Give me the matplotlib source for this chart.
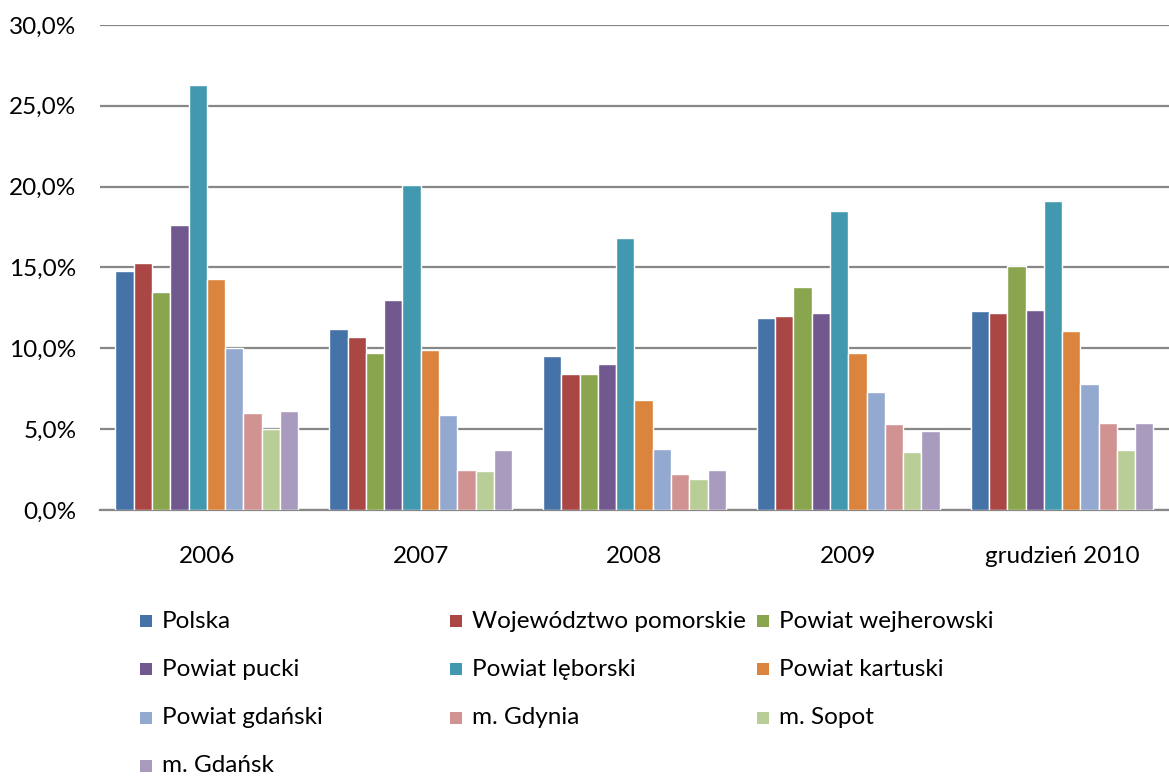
import numpy as np
import matplotlib
matplotlib.use("Agg")
import matplotlib.pyplot as plt
from matplotlib.patches import Rectangle
from matplotlib.ticker import FuncFormatter

plt.rcParams['font.family'] = ['Lato', 'DejaVu Sans']

# data (unemployment rate, %)
years = ["2006", "2007", "2008", "2009", "grudzień 2010"]
series_names = ["Polska", "Województwo pomorskie", "Powiat wejherowski",
                "Powiat pucki", "Powiat lęborski", "Powiat kartuski",
                "Powiat gdański", "m. Gdynia", "m. Sopot", "m. Gdańsk"]
polska = [14.8, 11.2, 9.5, 11.9, 12.3]
pomorskie = [15.3, 10.7, 8.4, 12.0, 12.2]
wejherowski = [13.5, 9.7, 8.4, 13.8, 15.1]
pucki = [17.6, 13.0, 9.0, 12.2, 12.4]
leborski = [26.3, 20.1, 16.8, 18.5, 19.1]
kartuski = [14.3, 9.9, 6.8, 9.7, 11.1]
gdanski = [10.0, 5.9, 3.8, 7.3, 7.8]
gdynia = [6.0, 2.5, 2.2, 5.3, 5.4]
sopot = [5.0, 2.4, 1.9, 3.6, 3.7]
gdansk = [6.1, 3.7, 2.5, 4.9, 5.4]
all_values = [polska, pomorskie, wejherowski, pucki, leborski,
              kartuski, gdanski, gdynia, sopot, gdansk]
colors = ["#4572A7", "#AA4643", "#89A54E", "#71588F", "#4198AF",
          "#DB843D", "#93A9CF", "#D19392", "#B9CD96", "#A99BBD"]

fig = plt.figure(figsize=(11.69, 7.76), dpi=100)
ax = fig.add_axes([0.0855, 0.3428, 0.9145, 0.625])

x = np.arange(len(years))
pitch = 0.0855
n = len(series_names)
for i, (vals, col) in enumerate(zip(all_values, colors)):
    offs = (i - (n - 1) / 2) * pitch
    ax.bar(x + offs, vals, width=pitch, color=col, edgecolor="white",
           linewidth=1.0, zorder=3)

ax.set_xlim(-0.5, len(years) - 0.5)
ax.set_ylim(0, 30)
ax.set_yticks(np.arange(0, 31, 5))
ax.yaxis.set_major_formatter(FuncFormatter(lambda v, p: f"{v:.1f}%".replace(".", ",")))
ax.set_xticks(x)
ax.set_xticklabels(years)
ax.tick_params(axis="both", length=0, labelsize=17.5, colors="black")
ax.tick_params(axis="x", pad=26)
ax.tick_params(axis="y", pad=17)
ax.grid(axis="y", color="#878787", linewidth=1.6, zorder=0)
for s in ["top", "right", "left"]:
    ax.spines[s].set_visible(False)
ax.spines["bottom"].set_color("#878787")
ax.spines["bottom"].set_linewidth(1.6)

# legend laid out like the original: 3 columns, row-major order
col_x = [140, 450, 757]
row_y = [621, 669, 718, 766]
W, H = 1169, 776
for i, (name, col) in enumerate(zip(series_names, colors)):
    cx = col_x[i % 3]
    cy = row_y[i // 3]
    fig.patches.append(Rectangle((cx / W, (H - cy - 6) / H), 12 / W, 12 / H,
                                 transform=fig.transFigure, facecolor=col,
                                 edgecolor="none"))
    fig.text((cx + 22) / W, (H - cy) / H, name, fontsize=17.5,
             va="center", ha="left")

fig.savefig("out.png", dpi=100)
